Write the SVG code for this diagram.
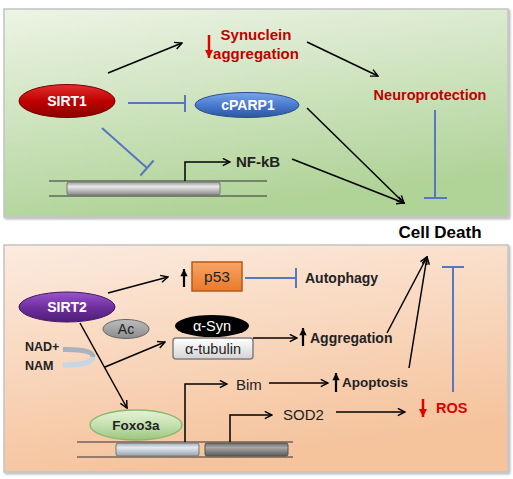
<svg xmlns="http://www.w3.org/2000/svg" width="513" height="479" viewBox="0 0 513 479">
<defs>
<linearGradient id="gTop" x1="0" y1="0" x2="0.3" y2="1"><stop offset="0" stop-color="#edf4e6"/><stop offset="1" stop-color="#b0d398"/></linearGradient>
<linearGradient id="gBot" x1="0" y1="0" x2="0.3" y2="1"><stop offset="0" stop-color="#fcebdf"/><stop offset="1" stop-color="#f5c39c"/></linearGradient>
<linearGradient id="gRed" x1="0" y1="0" x2="0" y2="1"><stop offset="0" stop-color="#e03030"/><stop offset="0.5" stop-color="#c00000"/><stop offset="1" stop-color="#8a0000"/></linearGradient>
<linearGradient id="gBlue" x1="0" y1="0" x2="0" y2="1"><stop offset="0" stop-color="#7aa6e8"/><stop offset="0.5" stop-color="#4a7bd0"/><stop offset="1" stop-color="#2b559e"/></linearGradient>
<linearGradient id="gPurple" x1="0" y1="0" x2="0" y2="1"><stop offset="0" stop-color="#9a55cc"/><stop offset="0.5" stop-color="#7030a0"/><stop offset="1" stop-color="#4e1d75"/></linearGradient>
<linearGradient id="gGreen" x1="0" y1="0" x2="0" y2="1"><stop offset="0" stop-color="#e4f3d8"/><stop offset="0.5" stop-color="#c5e0b0"/><stop offset="1" stop-color="#9cc67f"/></linearGradient>
<linearGradient id="gBar" x1="0" y1="0" x2="0" y2="1"><stop offset="0" stop-color="#9a9a9a"/><stop offset="0.35" stop-color="#e8e8e8"/><stop offset="1" stop-color="#8a8a8a"/></linearGradient>
<linearGradient id="gBarL" x1="0" y1="0" x2="0" y2="1"><stop offset="0" stop-color="#9eaab8"/><stop offset="0.35" stop-color="#e4e9ef"/><stop offset="1" stop-color="#98a2ae"/></linearGradient>
<linearGradient id="gBarD" x1="0" y1="0" x2="0" y2="1"><stop offset="0" stop-color="#6a6a6a"/><stop offset="0.35" stop-color="#a8a8a8"/><stop offset="1" stop-color="#5a5a5a"/></linearGradient>
<linearGradient id="gOrange" x1="0" y1="0" x2="0" y2="1"><stop offset="0" stop-color="#f9a465"/><stop offset="1" stop-color="#e87a2a"/></linearGradient>
<linearGradient id="gTub" x1="0" y1="0" x2="0" y2="1"><stop offset="0" stop-color="#ffffff"/><stop offset="1" stop-color="#d4d4d4"/></linearGradient>
<linearGradient id="gAc" x1="0" y1="0" x2="0" y2="1"><stop offset="0" stop-color="#bdbdbd"/><stop offset="1" stop-color="#8c8c8c"/></linearGradient>
<marker id="arr" viewBox="0 0 10 10" refX="9" refY="5" markerWidth="9" markerHeight="9" markerUnits="userSpaceOnUse" orient="auto"><path d="M1,1 L9,5 L1,9" fill="none" stroke="#000" stroke-width="1.6"/></marker>
<marker id="arrRed" viewBox="0 0 10 10" refX="9" refY="5" markerWidth="10" markerHeight="10" markerUnits="userSpaceOnUse" orient="auto"><path d="M1,1 L9,5 L1,9 Z" fill="#e00000"/></marker>
<marker id="arrUp" viewBox="0 0 10 10" refX="9" refY="5" markerWidth="9" markerHeight="9" markerUnits="userSpaceOnUse" orient="auto"><path d="M1,1 L9,5 L1,9 Z" fill="#000"/></marker>
<filter id="sh" x="-5%" y="-5%" width="110%" height="110%"><feDropShadow dx="1.5" dy="1.5" stdDeviation="1.2" flood-color="#000" flood-opacity="0.3"/></filter>
</defs>
<style>
.panel{stroke:#c4c4c4;stroke-width:1.5}
.lbl{font-family:"Liberation Sans",Arial,sans-serif;font-weight:bold}
.reg{font-family:"Liberation Sans",Arial,sans-serif}
.w{fill:#fff}
.dk{fill:#222}
.rd{fill:#c00000}
.a{stroke:#000;stroke-width:1.5;fill:none;marker-end:url(#arr)}
.inh{stroke:#5578c0;stroke-width:2;fill:none}
.ln{stroke:#333;stroke-width:1.2;fill:none}
.pr{stroke:#000;stroke-width:1.5;fill:none;marker-end:url(#arr)}
</style>
<rect width="513" height="479" fill="#fff"/>
<rect class="panel" x="4" y="9" width="504" height="208" fill="url(#gTop)" filter="url(#sh)"/>
<rect class="panel" x="4" y="245" width="504" height="227" fill="url(#gBot)" filter="url(#sh)"/>

<g id="genes">
<path class="ln" d="M49,181 H267 M49,196 H267"/>
<rect x="67" y="182" width="153" height="13" rx="2" fill="url(#gBar)" stroke="#777" stroke-width="1"/>
<path class="ln" d="M77,442 H293 M77,457 H293"/>
<rect x="116" y="443" width="83" height="13" rx="2" fill="url(#gBarL)" stroke="#777" stroke-width="1"/>
<rect x="205" y="443" width="83" height="13" rx="2" fill="url(#gBarD)" stroke="#555" stroke-width="1"/>
</g>

<g id="connectors">
<path class="a" d="M108,73 L182,43"/>
<path class="a" d="M307,42 L378,76"/>
<path class="inh" d="M128,103 H185 M185,95 V112"/>
<path class="inh" d="M102,128 L147,168 M140.4,175.5 L153.6,160.5"/>
<path class="inh" d="M435,110 V198 M424,198 H447"/>
<path class="a" d="M307,108 L404,203"/>
<path class="a" d="M292,159 L404,203"/>
<path class="pr" d="M185,181 V162 H230"/>
<path class="a" d="M108,293 L168,277"/>
<path class="inh" d="M245,278 H296 M296,268 V288"/>
<path class="a" d="M80,323 L127,408"/>
<path class="a" d="M105,367 L165,342"/>
<path class="a" d="M253,338 H297"/>
<path class="a" d="M387,333 L427,257"/>
<path class="a" d="M409,368 L427,257"/>
<path class="pr" d="M185,442 V384 H227"/>
<path class="a" d="M269,383 H328"/>
<path class="pr" d="M230,442 V415 H272"/>
<path class="a" d="M336,412 H405"/>
<path class="inh" d="M453,392 V267 M442,267 H464"/>
<path d="M63,349.5 C84,349 93,352 93,357" fill="none" stroke="#a9b3bd" stroke-width="5"/>
<path d="M93,357 C92,363 82,365 63,365" fill="none" stroke="#c6d6e6" stroke-width="5"/>
</g>

<g id="arrows-updown">
<path d="M209,35 V58" stroke="#e00000" stroke-width="2.5" marker-end="url(#arrRed)"/>
<path d="M423,399 V417" stroke="#e00000" stroke-width="2.5" marker-end="url(#arrRed)"/>
<path d="M184,287 V269" stroke="#000" stroke-width="2.2" marker-end="url(#arrUp)"/>
<path d="M303,346 V328" stroke="#000" stroke-width="2.2" marker-end="url(#arrUp)"/>
<path d="M336,392 V373" stroke="#000" stroke-width="2.2" marker-end="url(#arrUp)"/>
</g>

<g id="SIRT1"><ellipse cx="67" cy="101" rx="48" ry="16.5" fill="url(#gRed)" stroke="#7a0000" stroke-width="1"/><text class="lbl w" x="67" y="106" font-size="14" text-anchor="middle">SIRT1</text></g>
<g id="cPARP1"><ellipse cx="247" cy="105" rx="52" ry="12.5" fill="url(#gBlue)" stroke="#2a4f8f" stroke-width="1"/><text class="lbl w" x="248" y="110" font-size="14" text-anchor="middle">cPARP1</text></g>
<g id="Synuclein"><text class="lbl rd" font-size="15" text-anchor="middle"><tspan x="256" y="40">Synuclein</tspan><tspan x="256" y="59">aggregation</tspan></text></g>
<g id="Neuroprotection"><text class="lbl rd" x="430" y="100" font-size="14.5" text-anchor="middle">Neuroprotection</text></g>
<g id="NFkB"><text class="lbl dk" x="236" y="167" font-size="15">NF-kB</text></g>
<g id="CellDeath"><text class="lbl" x="440" y="238" font-size="17" text-anchor="middle" fill="#000">Cell Death</text></g>

<g id="SIRT2"><ellipse cx="67" cy="307" rx="48" ry="15" fill="url(#gPurple)" stroke="#3e1560" stroke-width="1"/><text class="lbl w" x="67" y="312" font-size="14" text-anchor="middle">SIRT2</text></g>
<g id="p53"><rect x="192" y="262" width="50" height="29" fill="url(#gOrange)" stroke="#b55a1a" stroke-width="1.5"/><text class="reg dk" x="217" y="282" font-size="15.5" text-anchor="middle">p53</text></g>
<g id="Autophagy"><text class="lbl dk" x="305" y="283" font-size="14">Autophagy</text></g>
<g id="Ac"><ellipse cx="126" cy="329" rx="23" ry="9.5" fill="url(#gAc)" stroke="#666" stroke-width="1"/><text class="reg dk" x="126" y="334" font-size="14" text-anchor="middle">Ac</text></g>
<g id="aSyn"><ellipse cx="212" cy="326" rx="37" ry="11" fill="#000"/><text class="reg w" x="212" y="331" font-size="14.5" text-anchor="middle">α-Syn</text></g>
<g id="atubulin"><rect x="173" y="338" width="80" height="21" rx="3" fill="url(#gTub)" stroke="#7f7f7f" stroke-width="1.5"/><text class="reg dk" x="213" y="354" font-size="14.5" text-anchor="middle">α-tubulin</text></g>
<g id="NAD"><text class="lbl dk" x="25" y="351" font-size="12.5">NAD+</text><text class="lbl dk" x="25" y="370" font-size="12.5">NAM</text></g>
<g id="Aggregation"><text class="lbl dk" x="310" y="343" font-size="14">Aggregation</text></g>
<g id="Foxo3a"><ellipse cx="136" cy="425" rx="46" ry="15" fill="url(#gGreen)" stroke="#8cb86c" stroke-width="1.5"/><text class="lbl dk" x="136" y="430" font-size="13.5" text-anchor="middle">Foxo3a</text></g>
<g id="Bim"><text class="reg dk" x="236" y="390" font-size="15">Bim</text></g>
<g id="Apoptosis"><text class="lbl dk" x="342" y="387" font-size="13.5">Apoptosis</text></g>
<g id="SOD2"><text class="reg dk" x="283" y="420" font-size="15">SOD2</text></g>
<g id="ROS"><text class="lbl" x="436" y="413" font-size="14.5" fill="#e00000">ROS</text></g>
</svg>
